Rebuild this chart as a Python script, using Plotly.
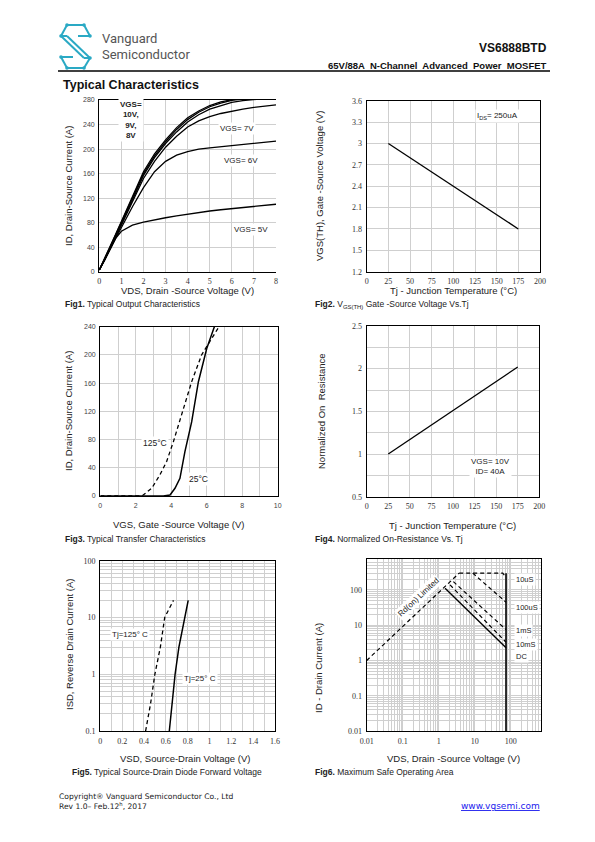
import plotly.graph_objects as go

W, H = 595, 842

# ---------------- data ----------------
# Fig1 output characteristics
vds1 = [0, 0.25, 0.5, 0.75, 1, 1.5, 2, 2.5, 3, 3.5, 4, 4.5, 5, 5.5, 6, 6.5, 7, 7.5, 8]
id_10v = [3, 22, 42, 62, 82, 122, 163, 192, 215, 235, 251, 262, 271, 277, 281, 284, 286, 288, 290]
id_9v = [3, 21, 41, 61, 80, 120, 160, 189, 212, 232, 248, 260, 269, 275, 279.5, 282, 284, 286, 288]
id_8v = [3, 20, 40, 59, 78, 117, 157, 186, 209, 228, 244, 256, 265, 271, 276, 279, 281, 283, 284]
id_7v = [3, 19, 38, 57, 75, 113, 152, 180, 203, 221, 236, 246, 253, 258, 262, 265, 268, 270, 272]
id_6v = [3, 19, 37, 55, 72, 106, 137, 163, 180, 190, 196, 200, 202, 204, 206, 208, 210, 212, 213]
id_5v = [3, 20, 38, 55, 66, 76, 81, 85, 88, 91, 94, 96, 99, 101, 103, 105, 107, 108.5, 110]

# Fig2 threshold voltage vs Tj
tj2 = [25, 175]
vth2 = [3.0, 1.8]

# Fig3 transfer characteristics
vgs3_25 = [0, 3.55, 3.93, 4.21, 4.49, 4.77, 5.15, 5.53, 6.0, 6.43]
id3_25 = [0, 0, 1.4, 10.9, 25, 63, 105, 162, 209, 240]
vgs3_125 = [0, 2.2, 2.42, 2.9, 3.36, 3.74, 4.12, 4.59, 5.15, 5.71, 6.28, 6.69]
id3_125 = [0, 0, 1.4, 11, 30, 49, 77, 115, 162, 200, 224, 240]

# Fig4 normalized Rds(on) vs Tj
tj4 = [25, 175]
rn4 = [1.0, 2.02]

# Fig5 diode forward voltage
vsd_125 = [0.415, 0.46, 0.50, 0.55, 0.59, 0.67]
isd_125 = [0.1, 0.3, 1, 3, 10, 20]
vsd_25 = [0.632, 0.66, 0.685, 0.72, 0.76, 0.785, 0.805]
isd_25 = [0.1, 0.3, 1, 3, 7, 12, 20]

# Fig6 safe operating area
rds_x = [0.01, 3.7]
rds_y = [1, 300]
us10_x = [3.7, 60, 74]
us10_y = [300, 300, 230]
us100_x = [8.8, 74]
us100_y = [300, 45]
ms1_x = [2.55, 74]
ms1_y = [172, 7.5]
ms10_x = [2.06, 74]
ms10_y = [139, 3.3]
dc_x = [1.5, 74]
dc_y = [112, 2.3]
vlim_x = [74, 74]
vlim_y = [300, 0.01]

# ---------------- helpers ----------------
def PX(x):
    return x / W

def PY(y):
    return 1 - y / H

GRID = "#cfcfcf"
TICKF = dict(family="Liberation Serif", size=8, color="#333")
TICKS = dict(family="Liberation Sans", size=7, color="#444")

fig = go.Figure()

def line(x, y, xa, ya, dash="solid", width=1.5):
    fig.add_trace(go.Scatter(x=x, y=y, mode="lines", xaxis=xa, yaxis=ya,
                             line=dict(color="black", width=width, dash=dash),
                             showlegend=False, hoverinfo="skip"))

# Fig1
for s in [id_10v, id_9v, id_8v, id_7v, id_6v, id_5v]:
    line(vds1, s, "x", "y", width=1.3)
# Fig2
line(tj2, vth2, "x2", "y2", width=1.3)
# Fig3
line(vgs3_25, id3_25, "x3", "y3", width=1.5)
line(vgs3_125, id3_125, "x3", "y3", dash="4px,3px", width=1.3)
# Fig4
line(tj4, rn4, "x4", "y4", width=1.3)
# Fig5
line(vsd_125, isd_125, "x5", "y5", dash="4px,3px", width=1.3)
line(vsd_25, isd_25, "x5", "y5", width=1.5)
# Fig6
line(rds_x, rds_y, "x6", "y6", dash="4px,3px", width=1.2)
line(us10_x, us10_y, "x6", "y6", dash="4px,3px", width=1.2)
line(us100_x, us100_y, "x6", "y6", dash="4px,3px", width=1.2)
line(ms1_x, ms1_y, "x6", "y6", dash="4px,3px", width=1.2)
line(ms10_x, ms10_y, "x6", "y6", dash="4px,3px", width=1.2)
line(dc_x, dc_y, "x6", "y6", width=1.4)
line(vlim_x, vlim_y, "x6", "y6", width=1.6)

def xax(x0, x1, yanchor, rng, **kw):
    d = dict(domain=[PX(x0), PX(x1)], anchor=yanchor, range=rng,
             showline=True, linecolor="black", linewidth=1.3, mirror=True,
             showgrid=True, gridcolor=GRID, gridwidth=1, zeroline=False,
             ticks="", tickfont=TICKF, ticklabelstandoff=2, automargin=False,
             tickangle=0)
    d.update(kw)
    return d

def yax(y0, y1, xanchor, rng, **kw):
    d = dict(domain=[PY(y1), PY(y0)], anchor=xanchor, range=rng,
             showline=True, linecolor="black", linewidth=1.3, mirror=True,
             showgrid=True, gridcolor=GRID, gridwidth=1, zeroline=False,
             ticks="", tickfont=TICKF, ticklabelstandoff=2, automargin=False,
             tickangle=0)
    d.update(kw)
    return d

minor_decade = []
for e in range(-2, 3):
    for m in range(1, 10):
        minor_decade.append(m * 10 ** e)

DEC = {0.01: "0.01", 0.1: "0.1", 1: "1", 10: "10", 100: "100"}

fig.update_layout(
    width=W, height=H, margin=dict(l=0, r=0, t=0, b=0, pad=0, autoexpand=False),
    paper_bgcolor="white", plot_bgcolor="white",
    xaxis=xax(99.3, 276, "y", [0, 8], dtick=1, tickfont=TICKF),
    yaxis=yax(100, 271.7, "x", [0, 280], dtick=40, mirror=False, tickfont=TICKS),
    xaxis2=xax(366.7, 540, "y2", [0, 200], dtick=25),
    yaxis2=yax(100.7, 271.7, "x2", [1.2, 3.6], dtick=0.3, tickformat=".1~f"),
    xaxis3=xax(100.3, 277.7, "y3", [0, 10], dtick=2, tickfont=TICKS,
               minor=dict(dtick=1, showgrid=True, gridcolor=GRID)),
    yaxis3=yax(326.7, 496, "x3", [0, 240], dtick=40, tickfont=TICKS),
    xaxis4=xax(366.7, 539.3, "y4", [0, 200], dtick=25),
    yaxis4=yax(326, 496.7, "x4", [0.5, 2.5], dtick=0.5, tickformat="~g",
               minor=dict(dtick=0.25, showgrid=True, gridcolor=GRID)),
    xaxis5=xax(100.3, 275, "y5", [0, 1.6], dtick=0.2, tickformat="~g",
               minor=dict(dtick=0.1, showgrid=True, gridcolor=GRID)),
    yaxis5=yax(560.7, 731, "x5", [-1, 2], type="log",
               tickvals=[v for v in minor_decade if 0.1 <= v <= 100],
               ticktext=[DEC.get(v, " ") for v in minor_decade if 0.1 <= v <= 100]),
    xaxis6=xax(366.7, 541, "y6", [-2, 2.84], type="log",
               tickvals=[v for v in minor_decade if v <= 700],
               ticktext=[DEC.get(v, " ") for v in minor_decade if v <= 700]),
    yaxis6=yax(559.3, 731, "x6", [-2, 2.87], type="log",
               tickvals=[v for v in minor_decade if v <= 740],
               ticktext=[DEC.get(v, " ") for v in minor_decade if v <= 740]),
)

ann = []

def text(x, y, t, size=9, xanchor="left", family="Liberation Sans", color="#222",
         angle=0, bg=None, yanchor="middle"):
    a = dict(x=PX(x), y=PY(y), xref="paper", yref="paper", text=t, showarrow=False,
             xanchor=xanchor, yanchor=yanchor, textangle=angle,
             font=dict(family=family, size=size, color=color))
    if bg:
        a["bgcolor"] = bg
        a["borderpad"] = 1
    ann.append(a)

# header
text(100, 38.5, "Vanguard", size=13, family="Roboto", color="#555")
text(100, 55, "Semiconductor", size=13, family="Roboto", color="#555")
text(549, 48, "<b>VS6888BTD</b>", size=12, xanchor="right", color="#111")
text(549, 65, "<b>65V/88A  N-Channel  Advanced  Power  MOSFET</b>", size=9.5, xanchor="right", color="#111")
text(61, 85, "<b>Typical Characteristics</b>", size=12.5, color="#111")

# axis titles
text(187, 290, "VDS, Drain -Source Voltage (V)", size=9.5, xanchor="center")
text(69, 186, "ID, Drain-Source Current (A)", size=9.5, xanchor="center", angle=-90)
text(453, 290, "Tj - Junction Temperature (°C)", size=9.5, xanchor="center")
text(320, 186, "VGS(TH), Gate -Source Voltage (V)", size=9.5, xanchor="center", angle=-90)
text(178, 524, "VGS, Gate -Source Voltage (V)", size=9.5, xanchor="center")
text(69, 411, "ID, Drain-Source Current (A)", size=9.5, xanchor="center", angle=-90)
text(452, 525, "Tj - Junction Temperature (°C)", size=9.5, xanchor="center")
text(322, 411, "Normalized On  Resistance", size=9.5, xanchor="center", angle=-90)
text(185, 758, "VSD, Source-Drain Voltage (V)", size=9.5, xanchor="center")
text(69, 645, "ISD, Reverse Drain Current (A)", size=9.5, xanchor="center", angle=-90)
text(453, 758, "VDS, Drain -Source Voltage (V)", size=9.5, xanchor="center")
text(318, 668, "ID - Drain Current (A)", size=9.5, xanchor="center", angle=-90)

# captions
text(63, 304, "<b>Fig1.</b> Typical Output Characteristics", size=8.5)
text(313, 304, "<b>Fig2.</b> V<sub>GS(TH)</sub> Gate -Source Voltage Vs.Tj", size=8.5)
text(63, 539, "<b>Fig3.</b> Typical Transfer Characteristics", size=8.5)
text(313, 539, "<b>Fig4.</b> Normalized On-Resistance Vs. Tj", size=8.5)
text(70, 772, "<b>Fig5.</b> Typical Source-Drain Diode Forward Voltage", size=8.5)
text(313, 772, "<b>Fig6.</b> Maximum Safe Operating Area", size=8.5)

# in-chart labels
text(118, 120, "<b>VGS=<br>10V,<br>9V,<br>8V</b>", size=8, bg="white")
text(237, 128, "VGS= 7V", size=8, xanchor="center", bg="white")
text(241, 161, "VGS= 6V", size=8, xanchor="center", bg="white")
text(251, 229, "VGS= 5V", size=8, xanchor="center", bg="white")
text(497, 116, "I<sub>DS</sub>= 250uA", size=8, xanchor="center", bg="white")
text(155, 443, "125°C", size=8.5, xanchor="center", bg="white")
text(198, 479, "25°C", size=8.5, xanchor="center", bg="white")
text(490, 467, "VGS= 10V<br>ID= 40A", size=8, xanchor="center", bg="white")
text(130, 634, "Tj=125° C", size=8, xanchor="center", bg="white")
text(200, 678, "Tj=25° C", size=8, xanchor="center", bg="white")
text(418, 597, "Rd(on) Limited", size=8, xanchor="center", angle=-43, bg="white")
text(514, 579, "10uS", size=7.5, bg="white")
text(514, 607, "100uS", size=7.5, bg="white")
text(514, 630, "1mS", size=7.5, bg="white")
text(514, 644, "10mS", size=7.5, bg="white")
text(514, 656, "DC", size=7.5, bg="white")

# footer
text(57, 796, "Copyright® Vanguard Semiconductor Co., Ltd", size=7.6, family="DejaVu Sans", color="#222")
text(57, 806, "Rev 1.0– Feb.12<sup>h</sup>, 2017", size=7.6, family="DejaVu Sans", color="#222")
text(542, 806, "<u>www.vgsemi.com</u>", size=9, family="DejaVu Sans", xanchor="right", color="#1a1aee")

fig.update_layout(annotations=ann)

# header rule and logo
shapes = [dict(type="line", xref="paper", yref="paper", x0=PX(58), x1=PX(550),
               y0=PY(71), y1=PY(71), line=dict(color="black", width=1.3))]
LC = "#2aa9c4"
segs = [((67, 25), (84, 25)), ((67, 25), (61, 36)), ((84, 25), (90, 36)),
        ((61, 36), (84, 58)), ((67, 36), (90, 58)), ((90, 36), (78, 36)),
        ((90, 58), (84, 68)), ((61, 57), (67, 68)), ((67, 68), (84, 68)),
        ((61, 57), (73, 57)), ((61, 36), (67, 36)), ((84, 58), (90, 58))]
for (a, b) in segs:
    shapes.append(dict(type="line", xref="paper", yref="paper",
                       x0=PX(a[0]), y0=PY(a[1]), x1=PX(b[0]), y1=PY(b[1]),
                       line=dict(color=LC, width=2)))
for (cx, cy) in [(67, 25), (84, 25), (61, 36), (90, 36), (61, 57), (90, 58), (67, 68), (84, 68)]:
    shapes.append(dict(type="circle", xref="paper", yref="paper",
                       x0=PX(cx - 1.8), x1=PX(cx + 1.8), y0=PY(cy + 1.8), y1=PY(cy - 1.8),
                       fillcolor=LC, line=dict(color=LC, width=0)))
fig.update_layout(shapes=shapes)

fig.write_html("out.html", config={"displayModeBar": False},
               post_script="document.body.style.margin='0px';document.body.style.padding='0px';")
